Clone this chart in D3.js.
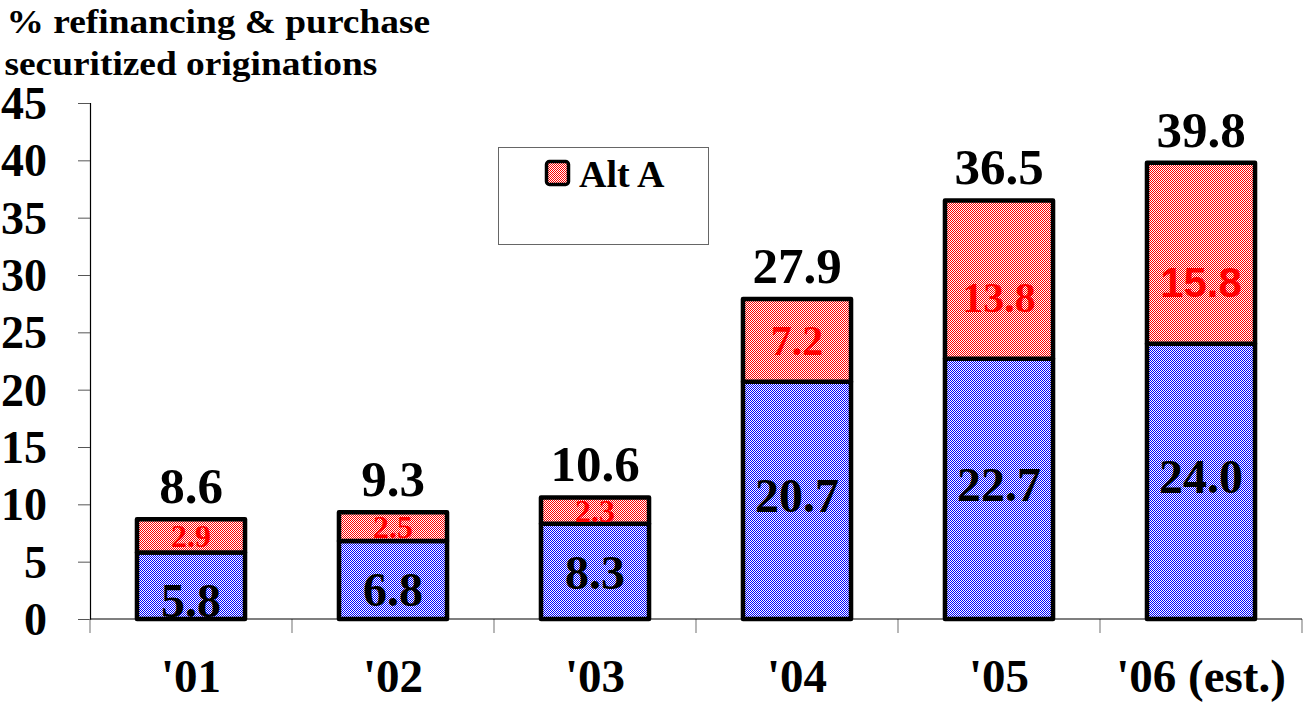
<!DOCTYPE html>
<html>
<head>
<meta charset="utf-8">
<script src="https://cdn.jsdelivr.net/npm/d3@7/dist/d3.min.js"></script>
<style>
  html, body { margin: 0; padding: 0; background: #fff; }
  svg { display: block; }
</style>
</head>
<body>
<svg id="chart" width="1306" height="702"></svg>
<script>
// Share of refinancing & purchase securitized originations, by year
const categories = ["'01", "'02", "'03", "'04", "'05", "'06 (est.)"];
const baseShare = [5.8, 6.8, 8.3, 20.7, 22.7, 24.0];   // lower (blue) segment
const altAShare = [2.9, 2.5, 2.3, 7.2, 13.8, 15.8];    // upper (red) segment, "Alt A"
const totals = [8.6, 9.3, 10.6, 27.9, 36.5, 39.8];
const yTicks = [0, 5, 10, 15, 20, 25, 30, 35, 40, 45];

const SERIF = "'Liberation Serif', 'Times New Roman', Times, serif";
const SANS = "'Liberation Sans', Arial, sans-serif";

const svg = d3.select("#chart");
const plotLeft = 90, plotRight = 1302, plotTop = 103, plotBottom = 619;

const x = d3.scaleBand().domain(categories).range([plotLeft, plotRight])
  .paddingInner(0.465).paddingOuter(0.2325);
const y = d3.scaleLinear().domain([0, 45]).range([plotBottom, plotTop]);

// bold text helper (inline styles so nothing overrides them)
function styleText(sel, size, color, family) {
  return sel.style("font-family", family || SERIF).style("font-weight", "700")
    .style("font-size", typeof size === "function" ? d => size(d) + "px" : size + "px")
    .attr("fill", color || "#000");
}

// checkerboard fills
const defs = svg.append("defs");
function checker(id, color) {
  const p = defs.append("pattern").attr("id", id)
    .attr("patternUnits", "userSpaceOnUse").attr("width", 2).attr("height", 2);
  p.append("rect").attr("width", 2).attr("height", 2).attr("fill", "#fff");
  p.append("rect").attr("x", 0).attr("y", 0).attr("width", 1).attr("height", 1).attr("fill", color);
  p.append("rect").attr("x", 1).attr("y", 1).attr("width", 1).attr("height", 1).attr("fill", color);
}
checker("blueCheck", "#0000ff");
checker("redCheck", "#ff0000");

// title (slightly widened face)
const title = styleText(svg.append("text"), 34).attr("transform", "scale(1.1,1)");
title.append("tspan").attr("x", 6).attr("y", 33).text("% refinancing & purchase");
title.append("tspan").attr("x", 4).attr("y", 75).text("securitized originations");

// y axis
const yAxis = d3.axisLeft(y).tickValues(yTicks).tickSize(12).tickPadding(31)
  .tickFormat(d3.format("d"));
const gy = svg.append("g").attr("transform", `translate(${plotLeft},0)`).call(yAxis);
gy.select(".domain").attr("stroke", "#000").attr("stroke-width", 1.2);
gy.selectAll(".tick line").attr("stroke", "#555").attr("stroke-width", 1);
styleText(gy.selectAll(".tick text"), 46).attr("dy", "0.34em");

// x axis: labels at band centres, ticks at band boundaries
const xAxis = d3.axisBottom(x).tickSize(0).tickPadding(0);
const gx = svg.append("g").attr("transform", `translate(0,${plotBottom})`).call(xAxis);
gx.select(".domain").remove();
styleText(gx.selectAll(".tick text"), 47).attr("y", 73).attr("dy", 0);
const bounds = d3.range(categories.length + 1).map(i => plotLeft + i * x.step());
svg.append("g").selectAll("line").data(bounds).join("line")
  .attr("x1", d => d).attr("x2", d => d)
  .attr("y1", plotBottom).attr("y2", plotBottom + 14)
  .attr("stroke", "#888").attr("stroke-width", 1.2);
svg.append("line").attr("x1", plotLeft).attr("x2", plotRight)
  .attr("y1", plotBottom).attr("y2", plotBottom)
  .attr("stroke", "#000").attr("stroke-width", 1.2);

// stacked bars
const rows = categories.map((c, i) => ({
  cat: c, base: baseShare[i], alt: altAShare[i], total: totals[i]
}));
const bars = svg.append("g").selectAll("g").data(rows).join("g");

bars.append("rect")
  .attr("x", d => x(d.cat)).attr("width", x.bandwidth())
  .attr("y", d => y(d.base)).attr("height", d => y(0) - y(d.base))
  .attr("fill", "url(#blueCheck)").attr("stroke", "#000").attr("stroke-width", 4.5)
  .attr("stroke-linejoin", "round");

bars.append("rect")
  .attr("x", d => x(d.cat)).attr("width", x.bandwidth())
  .attr("y", d => y(d.base + d.alt)).attr("height", d => y(d.base) - y(d.base + d.alt))
  .attr("fill", "url(#redCheck)").attr("stroke", "#000").attr("stroke-width", 4.5)
  .attr("stroke-linejoin", "round");

// segment labels
const cx = d => x(d.cat) + x.bandwidth() / 2;
styleText(bars.append("text"), 48)
  .attr("x", cx).attr("text-anchor", "middle")
  .attr("y", d => {
    const b = y(0), t = y(d.base), h = b - t, mid = (b + t) / 2;
    return Math.max(mid + 12, b - Math.max(0, h - 65));
  })
  .text(d => d3.format(".1f")(d.base));

const altSize = d => d.alt > 5 ? 42 : 32;
styleText(bars.append("text"), altSize, "#ff0000")
  .style("font-family", d => d.alt > 15 ? SANS : SERIF)
  .attr("x", cx).attr("text-anchor", "middle")
  .attr("y", d => {
    const b = y(d.base), t = y(d.base + d.alt), mid = (b + t) / 2;
    return Math.max(mid + 0.35 * altSize(d), b - 47);
  })
  .text(d => d3.format(".1f")(d.alt));

// totals above bars
styleText(bars.append("text"), 51)
  .attr("x", cx).attr("text-anchor", "middle")
  .attr("y", d => y(d.base + d.alt) - 16)
  .text(d => d3.format(".1f")(d.total));

// legend
const lg = svg.append("g");
lg.append("rect").attr("x", 498.5).attr("y", 147.5).attr("width", 210).attr("height", 97)
  .attr("fill", "#fff").attr("stroke", "#666").attr("stroke-width", 1);
lg.append("rect").attr("x", 546.5).attr("y", 161.5).attr("width", 22).attr("height", 23)
  .attr("rx", 3).attr("fill", "url(#redCheck)").attr("stroke", "#000").attr("stroke-width", 3.5);
styleText(lg.append("text"), 38).attr("x", 579).attr("y", 187).text("Alt A");
</script>
</body>
</html>
